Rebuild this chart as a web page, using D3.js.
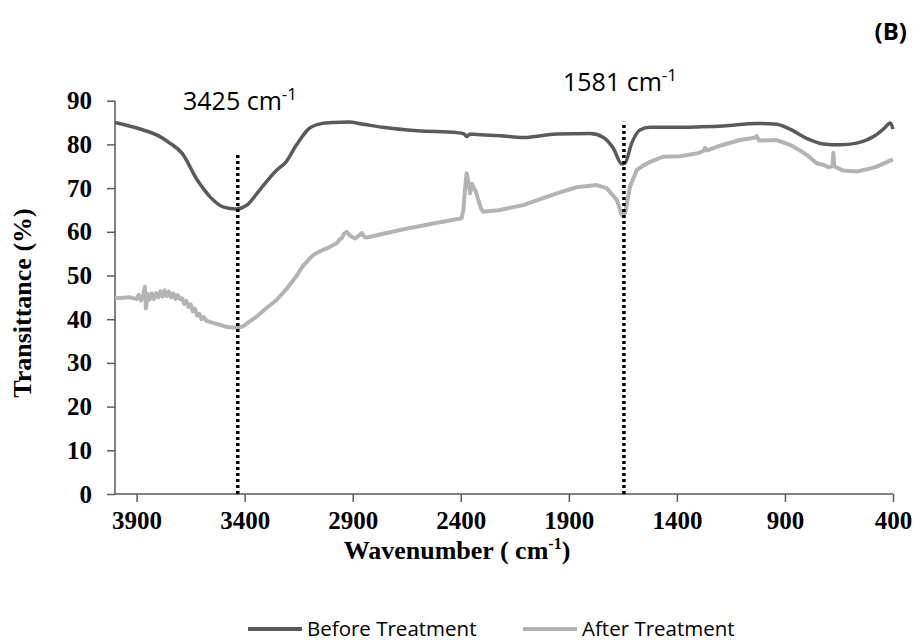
<!DOCTYPE html>
<html><head><meta charset="utf-8">
<script src="https://cdn.jsdelivr.net/npm/d3@7"></script>
<style>body{margin:0;background:#fff}svg{display:block}</style>
</head><body>
<svg id="c" width="913" height="641"></svg>
<script>
const xTicks = [3900, 3400, 2900, 2400, 1900, 1400, 900, 400];
const yTicks = [0, 10, 20, 30, 40, 50, 60, 70, 80, 90];
const seriesNames = ["Before Treatment", "After Treatment"];
const beforeWave = [4000,3870,3800,3746,3690,3620,3560,3500,3440,3390,3330,3250,3210,3160,3100,3050,2990,2920,2850,2760,2600,2420,2385,2373,2357,2340,2218,2110,1956,1800,1740,1694,1655,1640,1609,1571,1524,1400,1300,1185,1030,940,877,800,722,645,568,490,445,412,400];
const beforeT = [85.0,83.3,82.0,80.3,78.0,71.9,68.0,65.7,65.2,66.1,69.6,74.2,75.9,79.9,83.7,84.7,85.0,85.1,84.6,83.9,83.1,82.7,82.4,81.8,82.4,82.3,82.0,81.6,82.4,82.5,81.6,79.1,75.5,75.7,80.3,83.3,83.9,83.9,84.0,84.2,84.8,84.6,83.5,81.4,80.1,79.9,80.3,81.8,83.5,84.9,83.5];
const afterWave = [4000,3960,3930,3900,3890,3880,3870,3862,3857,3850,3840,3830,3820,3810,3800,3790,3780,3770,3760,3750,3740,3730,3720,3710,3700,3690,3680,3670,3660,3650,3640,3630,3620,3610,3600,3590,3576,3550,3514,3480,3453,3430,3406,3380,3344,3300,3252,3200,3159,3130,3098,3082,3050,3020,2990,2974,2960,2951,2940,2928,2910,2889,2870,2858,2845,2835,2681,2527,2396,2388,2380,2373,2365,2357,2348,2342,2330,2319,2305,2296,2218,2111,1956,1864,1771,1725,1678,1655,1640,1617,1586,1555,1524,1463,1385,1300,1275,1270,1262,1200,1108,1040,1031,1020,1000,938,877,830,799,753,720,699,680,676,672,668,630,568,520,475,414,400];
const afterT = [44.8,44.9,45.0,44.6,45.6,44.3,45.4,47.4,42.5,45.8,44.5,45.9,44.6,46.0,45.0,46.4,45.2,46.6,45.3,46.3,45.0,45.9,44.6,45.5,44.6,44.8,43.5,44.2,42.8,43.4,41.8,42.4,40.8,41.2,40.0,40.5,39.6,39.2,38.7,38.2,38.1,38.1,38.4,39.4,40.6,42.5,44.4,47.3,50.0,52.2,53.9,54.7,55.6,56.2,57.0,57.4,58.3,58.5,59.6,60.0,59.0,58.5,59.2,59.7,58.8,58.7,60.4,61.9,63.1,65.0,70.0,73.4,71.5,68.8,71.0,70.3,69.2,67.3,65.2,64.6,65.0,66.1,68.8,70.2,70.7,70.0,67.3,63.8,64.2,70.3,74.1,75.2,76.0,77.2,77.3,78.0,78.6,79.2,78.6,79.7,81.0,81.5,81.9,80.9,80.9,81.0,79.9,78.6,77.6,75.7,75.3,74.8,75.0,78.1,75.2,74.9,74.0,73.8,74.3,74.9,76.3,76.5];
const markerWave = [3432, 1645];
const markerTop = [77.6, 85.2];
const markerLabel = ["3425", "1581"];

const svg = d3.select("#c");
const x = d3.scaleLinear().domain([4000, 400]).range([115, 893]);
const y = d3.scaleLinear().domain([0, 90]).range([494, 100.7]);
const serif = "'Liberation Serif','Times New Roman',serif";
const sans = "'Open Sans',sans-serif";

// axes
const gx = svg.append("g").attr("transform", "translate(0,494)")
  .call(d3.axisBottom(x).tickValues(xTicks).tickSize(8).tickPadding(9).tickFormat(d3.format("d")));
const gy = svg.append("g").attr("transform", "translate(115,0)")
  .call(d3.axisLeft(y).tickValues(yTicks).tickSize(8).tickPadding(15).tickFormat(d3.format("d")));
[gx, gy].forEach(g => {
  g.select(".domain").attr("stroke", "#595959").attr("stroke-width", 1.5);
  g.selectAll(".tick line").attr("stroke", "#595959").attr("stroke-width", 1.5);
  g.selectAll(".tick text").attr("fill", "#000").attr("font-family", serif)
    .attr("font-weight", "bold").attr("font-size", 25);
});
gx.select(".domain").attr("d", "M115,0H893");
gy.select(".domain").attr("d", "M0,494V100.7");

// lines
const beforeData = beforeWave.map((w, i) => [w, beforeT[i]]);
const afterData = afterWave.map((w, i) => [w, afterT[i]]);
const line = d3.line().x(d => x(d[0])).y(d => y(d[1]));
svg.append("path").datum(afterData).attr("d", line).attr("fill", "none")
  .attr("stroke", "#b3b3b3").attr("stroke-width", 4).attr("stroke-linejoin", "round");
svg.append("path").datum(beforeData).attr("d", line.curve(d3.curveMonotoneX)).attr("fill", "none")
  .attr("stroke", "#5a5a5a").attr("stroke-width", 3.5).attr("stroke-linejoin", "round");

// markers
markerWave.forEach((w, i) => {
  svg.append("line").attr("x1", x(w)).attr("x2", x(w)).attr("y1", y(0)).attr("y2", y(markerTop[i]))
    .attr("stroke", "#000").attr("stroke-width", 3.5).attr("stroke-dasharray", "3,3");
});
const labPos = [[183, 110], [563, 91]];
markerLabel.forEach((t, i) => {
  const tx = svg.append("text").attr("x", labPos[i][0]).attr("y", labPos[i][1])
    .attr("font-family", sans).attr("font-size", 25).attr("fill", "#000");
  tx.append("tspan").text(t + " cm");
  tx.append("tspan").attr("dy", -10).attr("font-size", 17).text("-1");
});

// axis titles
const xt = svg.append("text").attr("x", 457).attr("y", 559).attr("text-anchor", "middle")
  .attr("font-family", serif).attr("font-weight", "bold").attr("font-size", 26).attr("fill", "#000");
xt.append("tspan").text("Wavenumber ( cm");
xt.append("tspan").attr("dy", -10).attr("font-size", 16).text("-1");
xt.append("tspan").attr("dy", 10).text(")");
svg.append("text").attr("transform", "translate(31,303) rotate(-90)").attr("text-anchor", "middle")
  .attr("font-family", serif).attr("font-weight", "bold").attr("font-size", 26).attr("fill", "#000")
  .text("Transittance (%)");

// (B)
svg.append("text").attr("x", 907).attr("y", 40).attr("text-anchor", "end")
  .attr("font-family", sans).attr("font-weight", "bold").attr("font-size", 24).attr("fill", "#000").text("(B)");

// legend
const legX = [248, 523];
const legColors = ["#5a5a5a", "#b3b3b3"];
seriesNames.forEach((n, i) => {
  svg.append("line").attr("x1", legX[i]).attr("x2", legX[i] + 54).attr("y1", 629).attr("y2", 629)
    .attr("stroke", legColors[i]).attr("stroke-width", 4);
  svg.append("text").attr("x", legX[i] + 59).attr("y", 636).attr("font-family", sans)
    .attr("font-size", 20.5).attr("fill", "#000").text(n);
});
</script>
</body></html>
